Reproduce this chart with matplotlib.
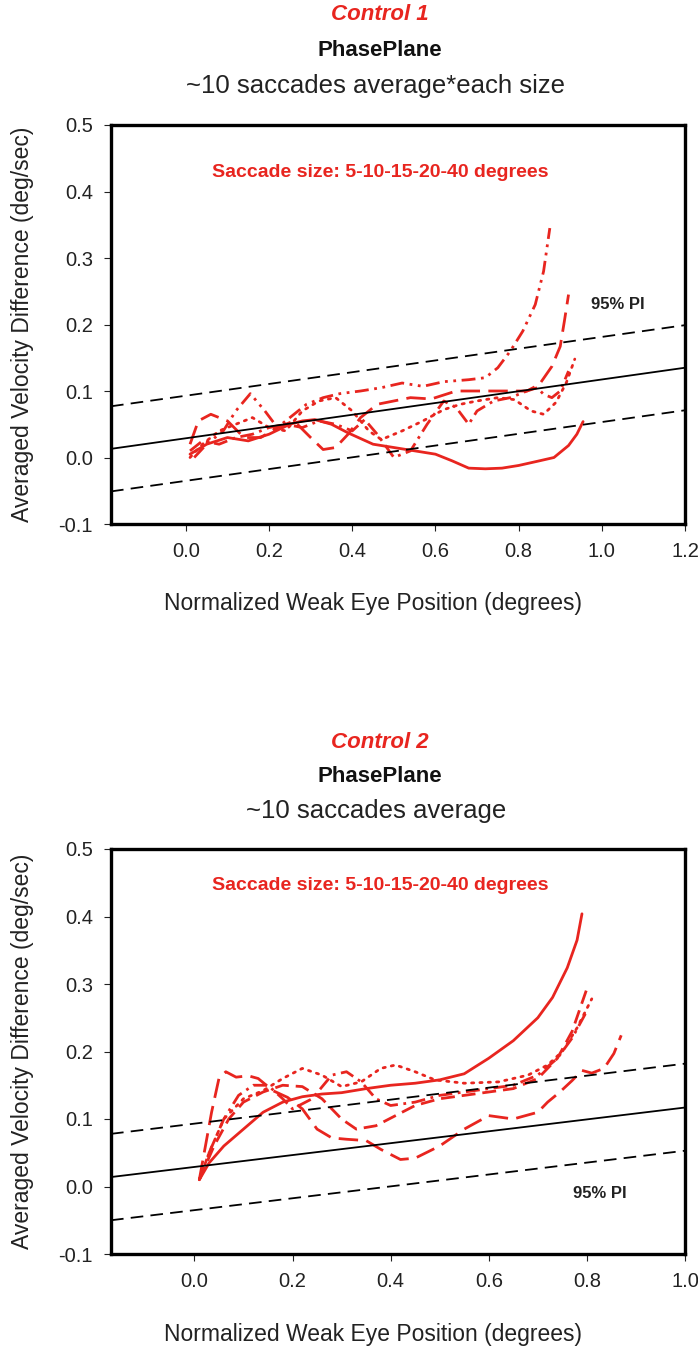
import matplotlib
matplotlib.use("Agg")
from matplotlib import pyplot as plt

plt.rcParams['font.family'] = ['Liberation Sans', 'DejaVu Sans']
plt.rcParams['axes.unicode_minus'] = False

RED = '#e8251f'

# ---- Control 1 (top panel) ----
c1_solid_x = [0.01, 0.05, 0.1, 0.15, 0.2, 0.25, 0.28, 0.31, 0.35, 0.39, 0.45, 0.5, 0.55, 0.6, 0.64, 0.68, 0.72, 0.76, 0.8, 0.85, 0.885, 0.92, 0.94, 0.955]
c1_solid_y = [0.005, 0.02, 0.03, 0.025, 0.035, 0.05, 0.055, 0.057, 0.05, 0.037, 0.02, 0.015, 0.01, 0.005, -0.005, -0.016, -0.017, -0.016, -0.012, -0.005, 0.0, 0.018, 0.035, 0.054]

c1_dash_x = [0.01, 0.03, 0.06, 0.1, 0.14, 0.18, 0.22, 0.26, 0.3, 0.33, 0.36, 0.39, 0.42, 0.46, 0.5, 0.54, 0.59, 0.65, 0.7, 0.73, 0.78, 0.82, 0.85, 0.88, 0.9, 0.91, 0.92]
c1_dash_y = [0.02, 0.055, 0.065, 0.055, 0.03, 0.03, 0.045, 0.055, 0.03, 0.012, 0.015, 0.035, 0.06, 0.08, 0.085, 0.09, 0.088, 0.1, 0.1, 0.1, 0.1, 0.1, 0.11, 0.137, 0.167, 0.205, 0.245]

c1_dd_x = [0.02, 0.05, 0.09, 0.12, 0.155, 0.19, 0.22, 0.25, 0.29, 0.33, 0.37, 0.42, 0.47, 0.52, 0.57, 0.62, 0.68, 0.72, 0.75, 0.78, 0.81, 0.84, 0.86, 0.875]
c1_dd_y = [0.0, 0.02, 0.04, 0.07, 0.096, 0.07, 0.045, 0.06, 0.08, 0.09, 0.096, 0.1, 0.105, 0.112, 0.107, 0.114, 0.117, 0.12, 0.135, 0.16, 0.19, 0.23, 0.28, 0.345]

c1_dashdot_x = [0.01, 0.04, 0.08, 0.12, 0.16, 0.2, 0.24, 0.28, 0.32, 0.36, 0.4, 0.43, 0.46, 0.5, 0.54, 0.58, 0.62, 0.65, 0.68, 0.7, 0.74, 0.78, 0.82, 0.845, 0.86, 0.88, 0.9, 0.92]
c1_dashdot_y = [0.01, 0.025, 0.02, 0.03, 0.035, 0.045, 0.05, 0.045, 0.055, 0.05, 0.04, 0.057, 0.035, 0.0, 0.01, 0.05, 0.085, 0.075, 0.05, 0.07, 0.085, 0.09, 0.1, 0.105, 0.095, 0.09, 0.1, 0.13]

c1_dot_x = [0.01, 0.04, 0.08, 0.12, 0.16, 0.2, 0.24, 0.28, 0.32, 0.36, 0.4, 0.44, 0.47, 0.52, 0.57, 0.62, 0.66, 0.7, 0.75, 0.79, 0.83, 0.86, 0.89, 0.915, 0.935]
c1_dot_y = [0.0, 0.02, 0.04, 0.05, 0.06, 0.045, 0.04, 0.07, 0.085, 0.09, 0.07, 0.04, 0.027, 0.04, 0.055, 0.072, 0.08, 0.085, 0.09, 0.087, 0.07, 0.065, 0.083, 0.113, 0.148]

c1_fit_x = [-0.18, 1.2]
c1_fit_y = [0.013, 0.135]
c1_upper_y = [0.077, 0.199]
c1_lower_y = [-0.051, 0.071]

# ---- Control 2 (bottom panel) ----
c2_solid_x = [0.01, 0.03, 0.06, 0.1, 0.14, 0.18, 0.22, 0.26, 0.3, 0.35, 0.4, 0.45, 0.5, 0.55, 0.6, 0.65, 0.7, 0.73, 0.76, 0.78, 0.79]
c2_solid_y = [0.01, 0.035, 0.06, 0.085, 0.11, 0.125, 0.133, 0.137, 0.139, 0.145, 0.15, 0.153, 0.158, 0.167, 0.19, 0.216, 0.25, 0.28, 0.324, 0.365, 0.404]

c2_dash_x = [0.01, 0.02, 0.035, 0.05, 0.064, 0.085, 0.11, 0.13, 0.16, 0.19, 0.22, 0.25, 0.28, 0.31, 0.35, 0.38, 0.42, 0.45, 0.5, 0.55, 0.6, 0.65, 0.7, 0.72, 0.745, 0.77, 0.79, 0.81, 0.835, 0.855, 0.87]
c2_dash_y = [0.01, 0.05, 0.11, 0.16, 0.17, 0.162, 0.164, 0.16, 0.142, 0.132, 0.115, 0.085, 0.072, 0.07, 0.068, 0.055, 0.04, 0.042, 0.06, 0.085, 0.105, 0.1, 0.11, 0.125, 0.14, 0.157, 0.172, 0.168, 0.175, 0.197, 0.224]

c2_mdash_x = [0.01, 0.04, 0.07, 0.1, 0.14, 0.18, 0.22, 0.26, 0.3, 0.33, 0.37, 0.41, 0.45, 0.5, 0.55, 0.6, 0.65, 0.7, 0.74, 0.77, 0.8]
c2_mdash_y = [0.01, 0.06, 0.1, 0.125, 0.14, 0.15, 0.148, 0.13, 0.1, 0.085, 0.09, 0.105, 0.12, 0.13, 0.135, 0.14, 0.145, 0.16, 0.19, 0.23, 0.293]

c2_dashdot_x = [0.01, 0.03, 0.06, 0.09, 0.12, 0.15, 0.18, 0.2, 0.24, 0.28, 0.31, 0.34, 0.37, 0.4, 0.45, 0.5, 0.55, 0.6, 0.65, 0.7, 0.74, 0.77, 0.8]
c2_dashdot_y = [0.01, 0.05, 0.1, 0.135, 0.15, 0.15, 0.13, 0.115, 0.13, 0.165, 0.17, 0.155, 0.13, 0.12, 0.125, 0.135, 0.14, 0.145, 0.15, 0.165, 0.19, 0.22, 0.26]

c2_dot_x = [0.01, 0.03, 0.06, 0.1, 0.14, 0.18, 0.22, 0.26, 0.3, 0.34, 0.38, 0.41, 0.45, 0.49, 0.55, 0.62, 0.68, 0.72, 0.75, 0.78, 0.81]
c2_dot_y = [0.01, 0.05, 0.1, 0.13, 0.142, 0.16, 0.175, 0.165, 0.148, 0.155, 0.175, 0.18, 0.17, 0.158, 0.153, 0.155, 0.165, 0.18, 0.2, 0.235, 0.278]

c2_fit_x = [-0.17, 1.0]
c2_fit_y = [0.014, 0.117]
c2_upper_y = [0.078, 0.182]
c2_lower_y = [-0.050, 0.053]

y_ticks = [-0.1, 0.0, 0.1, 0.2, 0.3, 0.4, 0.5]

styles = {
    'solid': '-',
    'dash': (0, (7, 3)),
    'mdash': (0, (5, 2.5)),
    'dd': (0, (5, 2, 1, 2, 1, 2)),
    'dashdot': (0, (5, 2, 1, 2)),
    'dot': (0, (0.8, 2.2)),
}

fig = plt.figure(figsize=(6.98, 13.49), dpi=100)
W, H = 698.0, 1349.0


def panel(rect, xlim, xticks, curves, fit_x, fit_y, up_y, lo_y,
          titles, note_y, pi_xy):
    ax = fig.add_axes(rect)
    for x, y, key in curves:
        ax.plot(x, y, color=RED, lw=2.0, linestyle=styles[key],
                solid_joinstyle='round', dash_joinstyle='round',
                solid_capstyle='round',
                dash_capstyle='round' if key == 'dot' else 'butt')
    ax.plot(fit_x, fit_y, color='black', lw=1.3)
    ax.plot(fit_x, up_y, color='black', lw=1.3, linestyle=(0, (7, 4)))
    ax.plot(fit_x, lo_y, color='black', lw=1.3, linestyle=(0, (7, 4)))
    ax.set_xlim(*xlim)
    ax.set_ylim(-0.1, 0.5)
    ax.set_xticks(xticks)
    ax.set_yticks(y_ticks)
    ax.set_xticklabels(['%.1f' % t for t in xticks])
    ax.set_yticklabels(['%.1f' % t for t in y_ticks])
    ax.tick_params(direction='out', length=5, width=0.8, labelsize=14.5, pad=8,
                   colors='#222222')
    for s in ax.spines.values():
        s.set_linewidth(2.4)
    ax.text(-0.155, 0.5, 'Averaged Velocity Difference (deg/sec)', rotation=90,
            transform=ax.transAxes, ha='center', va='center', fontsize=16.5,
            color='#222222')
    ax.text(0.457, -0.198, 'Normalized Weak Eye Position (degrees)',
            transform=ax.transAxes, ha='center', va='center', fontsize=16.5,
            color='#222222')
    ax.text(0.469, note_y, 'Saccade size: 5-10-15-20-40 degrees', color=RED,
            transform=ax.transAxes, ha='center', va='center', fontsize=14,
            fontweight='bold')
    ax.text(pi_xy[0], pi_xy[1], '95% PI', transform=ax.transAxes, ha='center',
            va='center', fontsize=12, fontweight='bold', color='#222222')
    t1, t2, t3, ys = titles
    fig.text(380 / W, 1 - ys[0] / H, t1, color=RED, fontsize=16, fontweight='bold',
             fontstyle='italic', ha='center', va='center')
    fig.text(380 / W, 1 - ys[1] / H, t2, fontsize=16, fontweight='bold',
             ha='center', va='center', color='#111111')
    fig.text(376 / W, 1 - ys[2] / H, t3, fontsize=18.5, ha='center', va='center',
             color='#222222')
    return ax


panel([111 / W, 1 - 524 / H, 574 / W, 399 / H], (-0.18, 1.2),
      [0.0, 0.2, 0.4, 0.6, 0.8, 1.0, 1.2],
      [(c1_solid_x, c1_solid_y, 'solid'), (c1_dash_x, c1_dash_y, 'dash'),
       (c1_dd_x, c1_dd_y, 'dd'), (c1_dashdot_x, c1_dashdot_y, 'dashdot'),
       (c1_dot_x, c1_dot_y, 'dot')],
      c1_fit_x, c1_fit_y, c1_upper_y, c1_lower_y,
      ('Control 1', 'PhasePlane', '~10 saccades average*each size', (15, 50, 86)),
      0.88, (0.883, 0.549))

panel([111 / W, 1 - 1254 / H, 574 / W, 405 / H], (-0.17, 1.0),
      [0.0, 0.2, 0.4, 0.6, 0.8, 1.0],
      [(c2_solid_x, c2_solid_y, 'solid'), (c2_dash_x, c2_dash_y, 'dash'),
       (c2_mdash_x, c2_mdash_y, 'mdash'), (c2_dashdot_x, c2_dashdot_y, 'dashdot'),
       (c2_dot_x, c2_dot_y, 'dot')],
      c2_fit_x, c2_fit_y, c2_upper_y, c2_lower_y,
      ('Control 2', 'PhasePlane', '~10 saccades average', (742, 776, 811)),
      0.911, (0.852, 0.15))

fig.savefig('out.png', dpi=100)
